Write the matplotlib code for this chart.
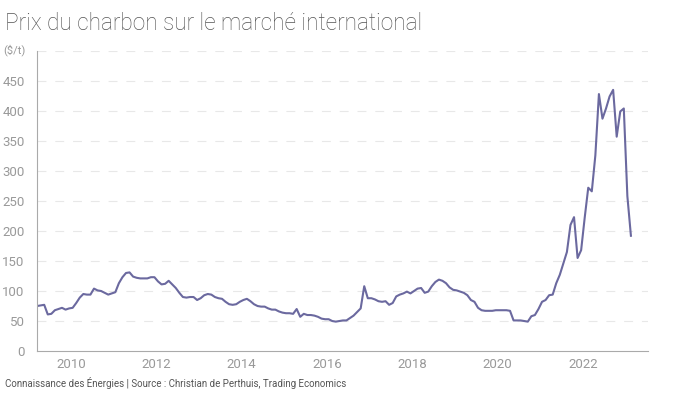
import matplotlib.pyplot as plt

# prix mensuel du charbon ($/t), de mars 2009 a fevrier 2023
start_year = 2009
start_month = 3
prix = [75, 76, 77, 61, 62, 68, 70, 72, 69, 71, 72, 80,
        89, 95, 94, 94, 104, 101, 100, 97, 94, 96, 98, 113,
        123, 130, 131, 124, 122, 121, 121, 121, 123, 123, 116, 111,
        112, 117, 111, 105, 97, 90, 89, 90, 90, 85, 88, 93,
        95, 94, 90, 88, 87, 82, 78, 77, 78, 82, 85, 87,
        83, 78, 75, 74, 74, 71, 69, 69, 66, 64, 63, 63,
        62, 70, 57, 62, 60, 60, 59, 57, 54, 53, 53, 50,
        49, 50, 51, 51, 55, 59, 65, 71, 108, 88, 88, 86,
        83, 82, 83, 77, 80, 91, 94, 96, 99, 96, 100, 104,
        105, 97, 99, 108, 115, 119, 117, 113, 106, 102, 101, 99,
        97, 93, 85, 82, 72, 68, 67, 67, 67, 68, 68, 68,
        68, 67, 51, 51, 51, 50, 49, 58, 60, 70, 82, 85,
        93, 94, 113, 127, 146, 165, 210, 223, 155, 168, 222, 272,
        266, 326, 428, 387, 404, 424, 435, 357, 399, 404, 258, 192]
annees = [2010, 2012, 2014, 2016, 2018, 2020, 2022]

# position en annee decimale (milieu du mois)
t = [start_year + (start_month - 1 + i + 0.5) / 12 for i in range(len(prix))]

plt.rcParams['font.family'] = ['Roboto', 'DejaVu Sans']

fig = plt.figure(figsize=(7, 3.94), dpi=100)
ax = fig.add_axes([0.053, 0.109, 0.873, 0.762])

ax.plot(t, prix, color='#6b699f', linewidth=1.5)

ax.set_xlim(t[0], 2023.53)
ax.set_ylim(0, 500)
ax.set_xticks(annees)
ax.set_xticklabels([str(a) for a in annees])
ax.set_yticks(range(0, 501, 50))
ax.set_yticklabels([str(v) for v in range(0, 451, 50)] + [''])

for v in range(50, 501, 50):
    ax.axhline(v, color='#e8e8e8', linewidth=0.8, dashes=(8, 8), zorder=0)

for s in ['top', 'right']:
    ax.spines[s].set_visible(False)
ax.spines['left'].set_color('#aaaaaa')
ax.spines['bottom'].set_color('#aaaaaa')
ax.tick_params(axis='both', length=0, colors='#999999', labelsize=9.5)
ax.tick_params(axis='y', pad=9)
ax.tick_params(axis='x', pad=5)

fig.text(0.007, 0.97, 'Prix du charbon sur le marché international',
         fontsize=16.3, color='#555555', fontweight='light', va='top')
fig.text(0.004, 0.872, '($/t)', fontsize=8, color='#999999', va='center')
fig.text(0.007, 0.018, 'Connaissance des Énergies | Source : Christian de Perthuis, Trading Economics',
         fontsize=7, color='#555555')

fig.savefig('out.png', dpi=100)
